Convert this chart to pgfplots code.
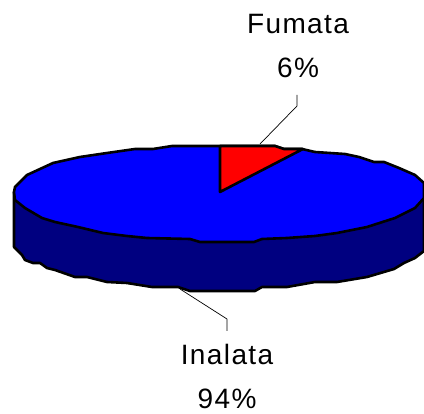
\documentclass[border=0pt]{standalone}
\usepackage{pgfplots}
\pgfplotsset{compat=1.18}
\usepackage{fontspec}
\setmainfont[LetterSpace=5]{Liberation Sans}
\definecolor{pieblue}{RGB}{0,0,255}
\definecolor{pieside}{RGB}{0,0,128}
\definecolor{piered}{RGB}{255,0,0}
\begin{document}
\begin{tikzpicture}
\useasboundingbox (0,0) rectangle (424pt,414pt);
\begin{axis}[
  at={(0,0)}, anchor=south west,
  scale only axis, width=424pt, height=414pt,
  xmin=0, xmax=424, ymin=0, ymax=414, y dir=reverse,
  axis lines=none, clip=true,
  every axis plot/.append style={no markers, line join=round},
]
% side wall
\addplot[fill=pieside, draw=black, line width=2.6pt] coordinates {
(14,192)(14,247)(22,255)(25,260)(33,263)(40,263)(47,268)(55,270)(75,277)(87,277)(107,282)(127,283)(152,287)(178,287)(190,291)(212,291)
(255,291)(262,287)(287,287)(315,282)(337,282)(367,277)(394,269)(404,263)(415,258)(424,251)(424,190)} -- cycle;
% top
\addplot[fill=pieblue, draw=black, line width=2.6pt] coordinates {
(15,187)(27,175)(53,163)(80,157)(107,153)(135,149)(153,149)(172,146)(212,146)(275,146)(284,149)(302,149)(315,152)(345,154)(359,157)(374,162)(384,162)(399,168)(415,175)(424,183)(424,198)
(415,208)(395,218)(367,227)(337,233)(315,236)(287,238)(262,239)(254,242)(212,242)(200,242)(190,239)(147,238)(127,236)(103,233)(78,227)(55,222)(42,218)(25,208)(15,200)(14,192)} -- cycle;
% wedge
\addplot[fill=piered, draw=black, line width=2.6pt] coordinates {
(220,146)(220,192)(303,149)(284,149)(275,146)} -- cycle;
% leaders
\addplot[black, line width=0.7pt] coordinates {(260,144)(297,106)(297,95)};
\addplot[black, line width=0.7pt] coordinates {(180,289)(227,319)(227,331)};
\node[anchor=base, font=\fontsize{28}{28}\selectfont, inner sep=0pt] at (axis cs:298,34) {Fumata};
\node[anchor=base, font=\fontsize{28}{28}\selectfont, inner sep=0pt] at (axis cs:298,78) {6\%};
\node[anchor=base, font=\fontsize{28}{28}\selectfont, inner sep=0pt] at (axis cs:227,365) {Inalata};
\node[anchor=base, font=\fontsize{28}{28}\selectfont, inner sep=0pt] at (axis cs:227,409) {94\%};
\end{axis}
\end{tikzpicture}
\end{document}
